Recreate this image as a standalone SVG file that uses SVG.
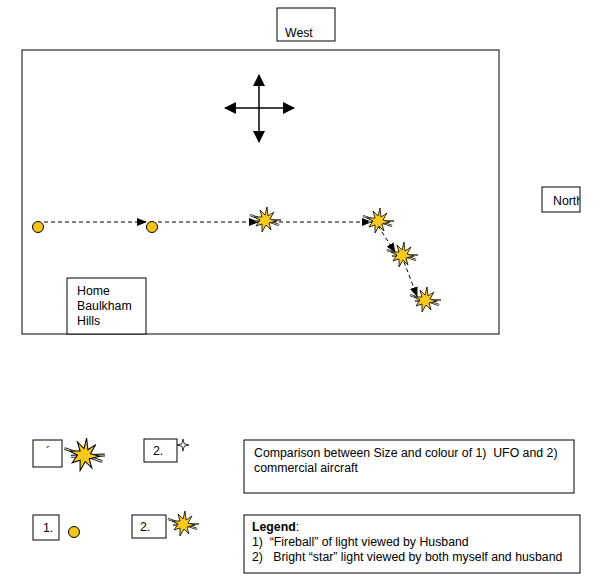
<svg xmlns="http://www.w3.org/2000/svg" width="600" height="588" viewBox="0 0 600 588">
<style>
.box{fill:#fff;stroke:#000;stroke-width:1}
.t{font-family:"Liberation Sans",Arial,sans-serif;font-size:12.3px;fill:#000;white-space:pre}
.dot{fill:#f5c518;stroke:#000;stroke-width:1}
.dash{fill:none;stroke:#000;stroke-width:1;stroke-dasharray:4,3}
.ln{fill:none;stroke:#000;stroke-width:1.5}
</style>
<defs>
<marker id="ah" markerWidth="10" markerHeight="8" refX="9" refY="4" orient="auto" markerUnits="userSpaceOnUse">
<path d="M0,0 L10,4 L0,8 Z" fill="#000"/>
</marker>
<marker id="ah2" markerWidth="12" markerHeight="12" refX="11" refY="6" orient="auto" markerUnits="userSpaceOnUse">
<path d="M0,0 L12,6 L0,12 Z" fill="#000"/>
</marker>
<g id="star">
<g stroke="#000" stroke-width="2.2"><line x1="-15" y1="-5" x2="14" y2="5"/><line x1="-10" y1="1" x2="16" y2="0"/></g>
<g stroke="#e8e0c0" stroke-width="0.9"><line x1="-15" y1="-5" x2="14" y2="5"/><line x1="-10" y1="1" x2="16" y2="0"/></g>
<polygon points="2,-13 3,-4 9,-8 5,-1 12,1 4,3 6,10 1,5 -3,12 -3,4 -9,6 -5,0 -11,-3 -3,-3 -5,-10 0,-5" fill="#f7c81e" stroke="#000" stroke-width="0.8"/>
</g>
<g id="smallstar">
<polygon points="0,-6 1.2,-1.2 6,0 1.2,1.2 0,6 -1.2,1.2 -6,0 -1.2,-1.2" fill="#fff" stroke="#000" stroke-width="0.8"/>
</g>
<clipPath id="nc"><rect x="542" y="187" width="38" height="25"/></clipPath>
</defs>

<rect class="box" x="22" y="50" width="477" height="284"/>

<g id="west"><rect class="box" x="277" y="8" width="58" height="33"/><text class="t" x="285" y="37">West</text></g>
<g id="north"><rect class="box" x="542" y="187" width="38" height="25"/><text class="t" x="553" y="205" clip-path="url(#nc)">North</text></g>
<g id="home"><rect class="box" x="67" y="278" width="79" height="56"/><text class="t" x="77" y="295">Home</text><text class="t" x="77" y="310">Baulkham</text><text class="t" x="77" y="325">Hills</text></g>

<g id="compass">
<line class="ln" x1="259" y1="108" x2="259" y2="75" marker-end="url(#ah2)"/>
<line class="ln" x1="259" y1="108" x2="259" y2="142" marker-end="url(#ah2)"/>
<line class="ln" x1="259" y1="108" x2="225" y2="108" marker-end="url(#ah2)"/>
<line class="ln" x1="259" y1="108" x2="294" y2="108" marker-end="url(#ah2)"/>
</g>

<g id="connectors">
<line class="dash" x1="44" y1="222" x2="146" y2="222" marker-end="url(#ah)"/>
<line class="dash" x1="158" y1="222" x2="258" y2="222" marker-end="url(#ah)"/>
<line class="dash" x1="272" y1="222" x2="371" y2="222" marker-end="url(#ah)"/>
<line class="dash" x1="378" y1="226" x2="395" y2="252" marker-end="url(#ah)"/>
<line class="dash" x1="404" y1="262" x2="417" y2="296" marker-end="url(#ah)"/>
</g>

<g id="p1"><circle class="dot" cx="38" cy="227" r="5.5"/></g>
<g id="p2"><circle class="dot" cx="152" cy="227" r="5.5"/></g>
<g id="p3"><use href="#star" x="265" y="220"/></g>
<g id="p4"><use href="#star" x="378" y="221"/></g>
<g id="p5"><use href="#star" x="402" y="255"/></g>
<g id="p6"><use href="#star" x="425" y="300"/></g>

<g id="cmp1"><rect class="box" x="33" y="440" width="29" height="27"/><text class="t" x="46" y="456" font-size="9">´</text><use href="#star" transform="translate(84,455) scale(1.3)"/></g>
<g id="cmp2"><rect class="box" x="144" y="439" width="33" height="23"/><text class="t" x="153" y="455">2.</text><use href="#smallstar" x="183" y="445"/></g>
<g id="cmptext"><rect class="box" x="244" y="440" width="330" height="53"/><text class="t" x="254" y="457">Comparison between Size and colour of 1)  UFO and 2)</text><text class="t" x="254" y="472">commercial aircraft</text></g>

<g id="leg1"><rect class="box" x="33" y="515" width="26" height="25"/><text class="t" x="43" y="532">1.</text><circle class="dot" cx="74" cy="532" r="5.5"/></g>
<g id="leg2"><rect class="box" x="132" y="515" width="34" height="23"/><text class="t" x="140" y="531">2.</text><use href="#star" x="183" y="524"/></g>
<g id="legend"><rect class="box" x="244" y="515" width="336" height="58"/><text class="t" x="252" y="531" font-weight="bold">Legend<tspan font-weight="normal">:</tspan></text><text class="t" x="252" y="546">1)  “Fireball” of light viewed by Husband</text><text class="t" x="252" y="561">2)   Bright “star” light viewed by both myself and husband</text></g>
</svg>
